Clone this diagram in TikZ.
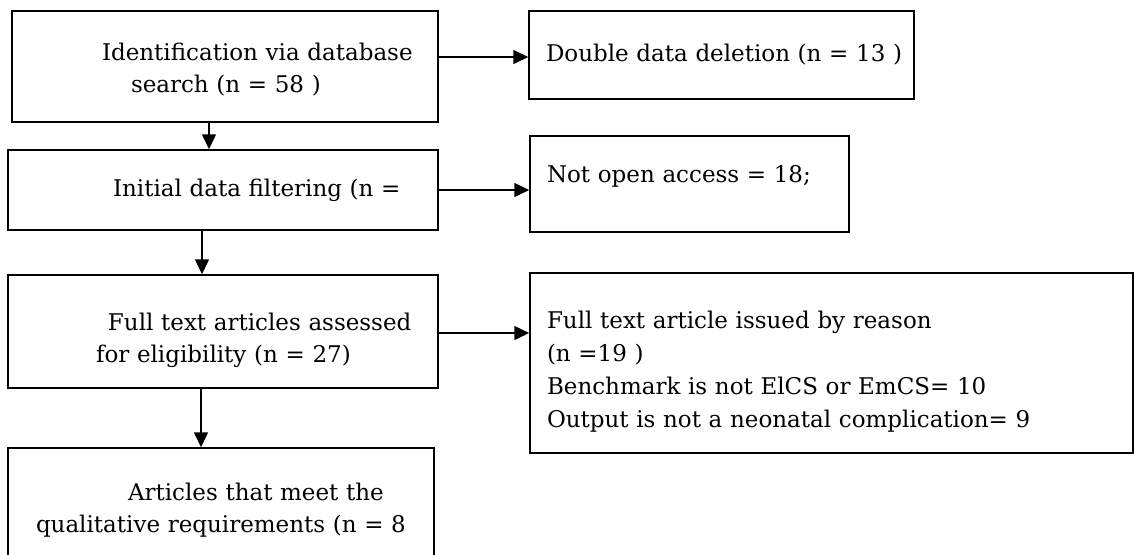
\documentclass[tikz,border=0pt]{standalone}
\usepackage{fontspec}
\setmainfont{DejaVu Serif}
\usetikzlibrary{arrows.meta,positioning}

\begin{document}
\begin{tikzpicture}[x=0.5pt,y=-0.5pt,line width=0.75pt,
    box/.style={draw,rectangle,inner xsep=0pt,inner ysep=0pt,align=left,
        font=\fontsize{11.5}{16}\selectfont},
    arr/.style={-{Triangle[length=7.5pt,width=7pt]}}]
        \clip (0,0) rectangle (1134,554);

        \node[box,text width=213pt,minimum height=55.5pt,text height=11.75pt] (ident) at (225,66.5)
            {\hspace*{45pt}Identification via database\\\hspace*{59.5pt}search (n = 58 )};
        \node[box,text width=192.5pt,minimum height=44pt] (dup) at (721.5,55)
            {\hspace*{8.5pt}Double data deletion (n = 13 )};
        \node[box,text width=215pt,minimum height=40pt] (filter) at (223,190)
            {\hspace*{52.5pt}Initial data filtering (n =};
        \node[box,text width=159.5pt,minimum height=48pt,text depth=10pt] (noaccess) at (689.5,184)
            {\hspace*{8.5pt}Not open access = 18;};
        \node[box,text width=215pt,minimum height=56.5pt,text height=17.75pt] (fulltext) at (223,331.5)
            {\hspace*{50pt}Full text articles assessed\\\hspace*{44pt}for eligibility (n = 27)};
        \node[box,text width=301.5pt,minimum height=90pt,text height=17.25pt,
            font=\fontsize{11.5}{16.5}\selectfont] (excluded) at (831.5,363)
            {\hspace*{8.5pt}Full text article issued by reason\\
             \hspace*{8.5pt}(n =19 )\\
             \hspace*{8.5pt}Benchmark is not ElCS or EmCS= 10\\
             \hspace*{8.5pt}Output is not a neonatal complication= 9};
        \node[box,text width=213pt,minimum height=56pt,text height=14.75pt] (quality) at (221,504)
            {\hspace*{60pt}Articles that meet the\\\hspace*{14pt}qualitative requirements (n = 8};

        \coordinate (s1) at ([xshift=-8pt]ident.south);
        \coordinate (s2) at ([xshift=-10.5pt]filter.south);
        \coordinate (s3) at ([xshift=-11pt]fulltext.south);
        \coordinate (e1) at ([yshift=4.75pt]ident.east);
        \coordinate (e3) at ([yshift=-0.75pt]fulltext.east);

        \path[arr] (e1) edge (e1 -| dup.west);
        \path[arr] (filter.east) edge (filter.east -| noaccess.west);
        \path[arr] (e3) edge (e3 -| excluded.west);
        \path[arr] (s1) edge (s1 |- filter.north);
        \path[arr] (s2) edge (s2 |- fulltext.north);
        \path[arr] (s3) edge (s3 |- quality.north);
    \end{tikzpicture}
\end{document}
